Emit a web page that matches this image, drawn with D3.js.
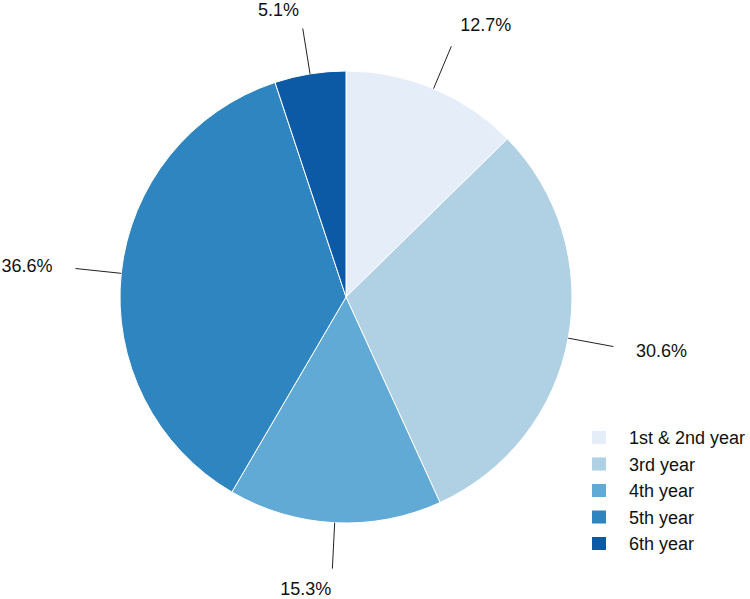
<!DOCTYPE html>
<html>
<head>
<meta charset="utf-8">
<script src="https://cdn.jsdelivr.net/npm/d3@7"></script>
<style>
  html, body { margin: 0; padding: 0; background: #ffffff; }
  svg { display: block; font-family: "Liberation Sans", Arial, sans-serif; }
</style>
</head>
<body>
<svg id="chart" width="750" height="599"></svg>
<script>
const categories = ["1st & 2nd year", "3rd year", "4th year", "5th year", "6th year"];
const values = [12.7, 30.6, 15.3, 36.6, 5.1];
const labels = ["12.7%", "30.6%", "15.3%", "36.6%", "5.1%"];
const colors = ["#e5edf8", "#b0d0e3", "#60aad5", "#2f85c0", "#0c5aa6"];

const svg = d3.select("#chart");
const W = 750, H = 599;
const cx = 346, cy = 297, R = 226;
const lineOuter = 272, labelR = 295;

const data = categories.map((c, i) => ({ cat: c, value: values[i], label: labels[i], color: colors[i] }));

const pie = d3.pie().sort(null).value(d => d.value);
const arcs = pie(data);
const arc = d3.arc().innerRadius(0).outerRadius(R);

const g = svg.append("g").attr("transform", `translate(${cx},${cy})`);

g.selectAll("path.slice")
  .data(arcs)
  .enter().append("path")
  .attr("class", "slice")
  .attr("d", arc)
  .attr("fill", d => d.data.color)
  .attr("stroke", "#ffffff")
  .attr("stroke-width", 1);

const pt = (a, r) => [Math.sin(a) * r, -Math.cos(a) * r];
const mid = d => (d.startAngle + d.endAngle) / 2;

g.selectAll("line.leader")
  .data(arcs)
  .enter().append("line")
  .attr("class", "leader")
  .attr("x1", d => pt(mid(d), R)[0])
  .attr("y1", d => pt(mid(d), R)[1])
  .attr("x2", d => pt(mid(d), lineOuter)[0])
  .attr("y2", d => pt(mid(d), lineOuter)[1])
  .attr("stroke", "#222222")
  .attr("stroke-width", 1);

// keep labels fully inside the canvas
const clampY = y => Math.max(10 - cy, Math.min(H - 10 - cy, y));

g.selectAll("text.pct")
  .data(arcs)
  .enter().append("text")
  .attr("class", "pct")
  .attr("x", d => pt(mid(d), labelR)[0])
  .attr("y", d => clampY(pt(mid(d), labelR)[1]))
  .attr("dy", "0.35em")
  .attr("text-anchor", d => Math.sin(mid(d)) >= 0 ? "start" : "end")
  .attr("font-size", 18)
  .attr("fill", "#111111")
  .text(d => d.data.label);

// Legend
const legendY = d3.scalePoint().domain(categories).range([438, 544]);
const legend = svg.append("g");
const items = legend.selectAll("g.item")
  .data(data)
  .enter().append("g")
  .attr("class", "item")
  .attr("transform", d => `translate(592,${legendY(d.cat)})`);
items.append("rect")
  .attr("x", 0).attr("y", -7)
  .attr("width", 14).attr("height", 13)
  .attr("fill", d => d.color);
items.append("text")
  .attr("x", 37).attr("y", 0)
  .attr("dy", "0.35em")
  .attr("font-size", 18)
  .attr("fill", "#111111")
  .text(d => d.cat);
</script>
</body>
</html>
